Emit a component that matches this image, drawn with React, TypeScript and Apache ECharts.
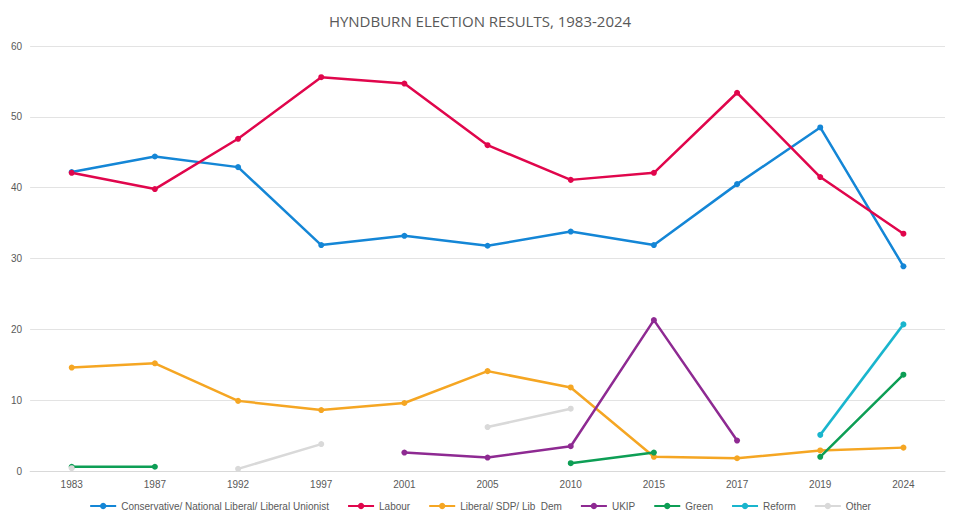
import * as echarts from 'echarts';
import React, { useEffect, useRef } from 'react';

const years = ['1983', '1987', '1992', '1997', '2001', '2005', '2010', '2015', '2017', '2019', '2024'];
const conservative = [42.2, 44.4, 42.9, 31.9, 33.2, 31.8, 33.8, 31.9, 40.5, 48.5, 28.9];
const labour = [42.1, 39.8, 46.9, 55.6, 54.7, 46.0, 41.1, 42.1, 53.4, 41.5, 33.5];
const libDem = [14.6, 15.2, 9.9, 8.6, 9.6, 14.1, 11.8, 2.0, 1.8, 2.9, 3.3];
const ukip = [null, null, null, null, 2.6, 1.9, 3.5, 21.3, 4.3, null, null];
const green = [0.6, 0.6, null, null, null, null, 1.1, 2.6, null, 2.0, 13.6];
const reform = [null, null, null, null, null, null, null, null, null, 5.1, 20.7];
const other = [0.4, null, 0.3, 3.8, null, 6.2, 8.8, null, null, null, null];

const seriesDefs = [
  { name: 'Conservative/ National Liberal/ Liberal Unionist', data: conservative, color: '#1486d6' },
  { name: 'Labour', data: labour, color: '#e0064c' },
  { name: 'Liberal/ SDP/ Lib  Dem', data: libDem, color: '#f5a623' },
  { name: 'UKIP', data: ukip, color: '#8e2a92' },
  { name: 'Green', data: green, color: '#0d9e55' },
  { name: 'Reform', data: reform, color: '#19b5cd' },
  { name: 'Other', data: other, color: '#d9d9d9' },
];

const App: React.FC = () => {
  const ref = useRef<HTMLDivElement>(null);

  useEffect(() => {
    const chart = echarts.init(ref.current, null, { renderer: 'svg' });
    chart.setOption({
      animation: false,
      title: {
        text: 'HYNDBURN ELECTION RESULTS, 1983-2024',
        left: 'center',
        top: 0,
        textStyle: { fontSize: 15, fontWeight: 'normal', color: '#595959', fontFamily: 'Open Sans' },
      },
      legend: {
        bottom: 4,
        itemWidth: 26,
        itemHeight: 8,
        itemGap: 18,
        textStyle: { fontSize: 10, color: '#595959' },
        data: seriesDefs.map((s) => s.name),
      },
      grid: { left: 21, right: 7, top: 38, bottom: 49 },
      xAxis: {
        type: 'category',
        data: years,
        boundaryGap: true,
        axisLine: { lineStyle: { color: '#d9d9d9' } },
        axisTick: { show: false },
        axisLabel: { color: '#595959', fontSize: 10 },
      },
      yAxis: {
        type: 'value',
        min: 0,
        max: 60,
        interval: 10,
        axisLabel: { color: '#595959', fontSize: 10 },
        splitLine: { lineStyle: { color: '#e3e3e3' } },
      },
      series: seriesDefs.map((s) => ({
        name: s.name,
        type: 'line',
        data: s.data,
        connectNulls: false,
        symbol: 'circle',
        symbolSize: 6,
        itemStyle: { color: s.color },
        lineStyle: { width: 2.5, color: s.color },
      })),
    });
    return () => chart.dispose();
  }, []);

  return <div ref={ref} style={{ width: 944, height: 512 }} />;
};

export default App;
